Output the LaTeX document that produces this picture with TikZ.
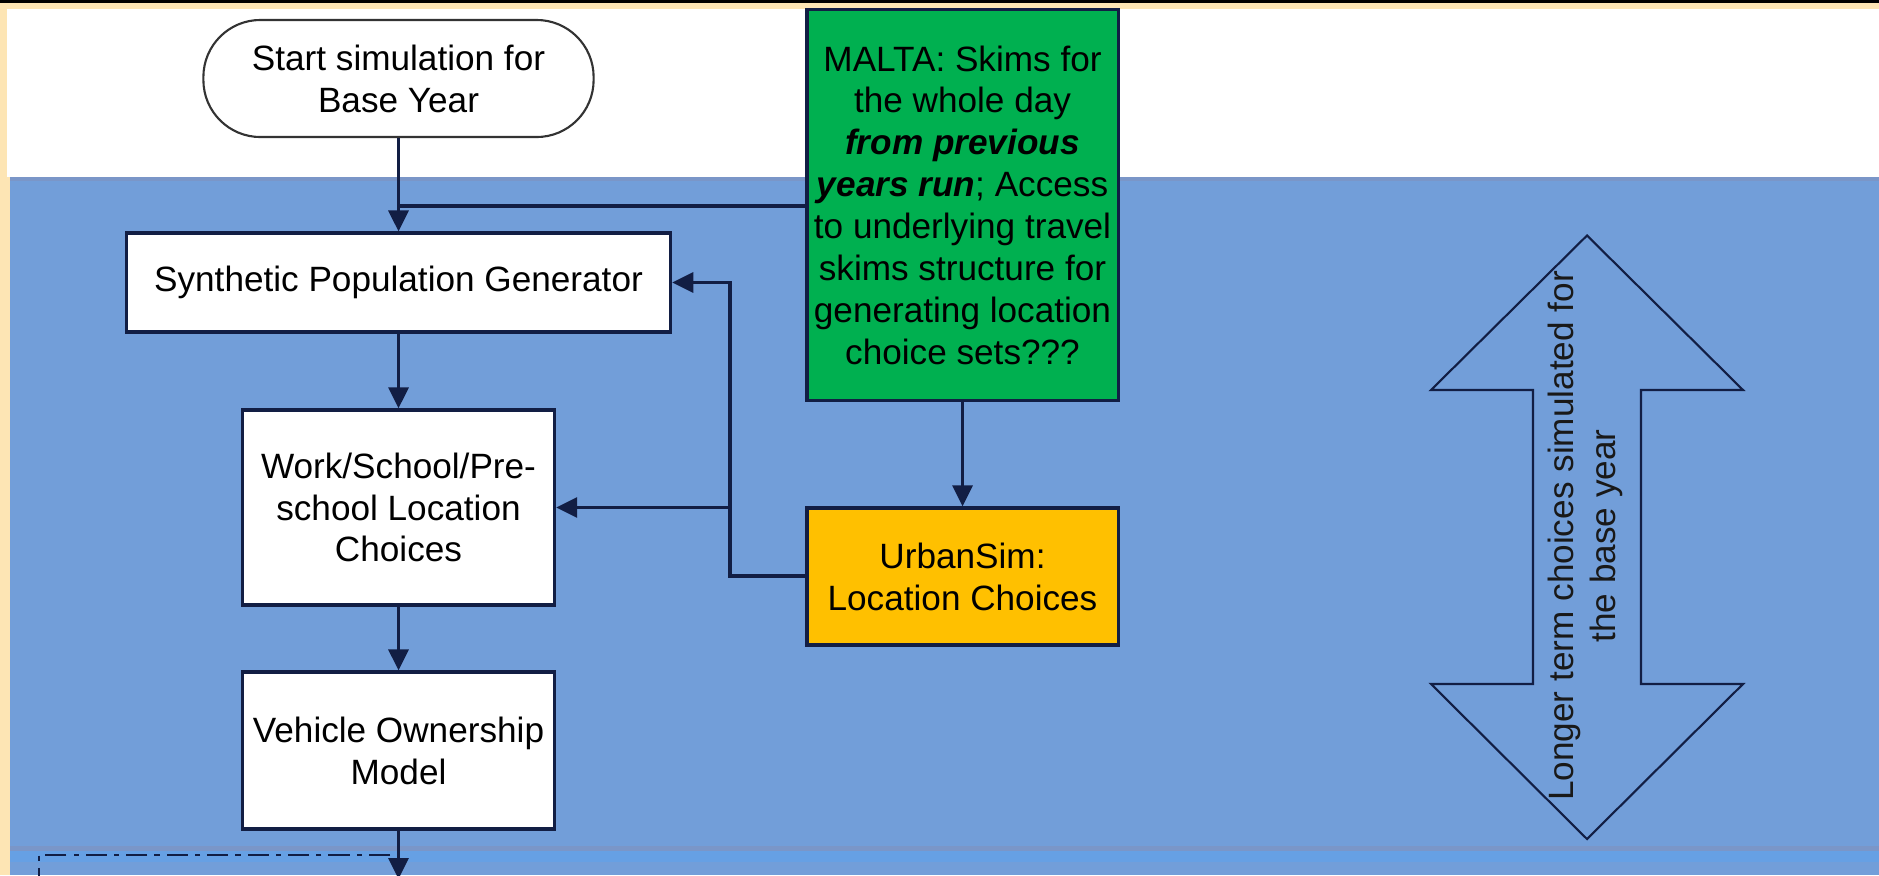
\documentclass[tikz,border=0pt]{standalone}
\usepackage{fontspec}
\setmainfont{Liberation Sans}
\usetikzlibrary{arrows.meta}
\usetikzlibrary{positioning}
\definecolor{bandcream}{RGB}{253,229,180}
\definecolor{laneblue}{RGB}{114,158,217}
\definecolor{laneedge}{RGB}{122,150,200}
\definecolor{lanestrip}{RGB}{102,160,228}
\definecolor{maltagreen}{RGB}{0,176,80}
\definecolor{urbangold}{RGB}{255,192,0}
\definecolor{edgenavy}{RGB}{18,30,68}
\tikzset{proc/.style={rectangle,draw=edgenavy,line width=0.9pt,fill=white,align=center,inner sep=0pt}}
\tikzset{term/.style={proc,draw=black!80,line width=0.6pt,rounded corners=0.57cm}}
\tikzset{link/.style={draw=edgenavy,line width=0.9pt}}
\tikzset{flow/.style={link,-{Triangle[length=0.21cm,width=0.2cm]}}}
\begin{document}
\begin{tikzpicture}[x=0.01cm,y=-0.01cm,font=\fontsize{10}{11.9}\selectfont]
\clip (0,0) rectangle (1879,875);
% backdrop
\fill[bandcream] (0,0) rectangle (1879,875);
\fill[black] (0,0) rectangle (1879,2.5);
\fill[white] (7,9) rectangle (1879,177);
\fill[laneblue] (10,177) rectangle (1879,875);
\fill[laneedge] (10,177) rectangle (1879,181);
\fill[laneedge] (10,846) rectangle (1879,851);
\fill[lanestrip] (10,851) rectangle (1879,862);

% model chain
\node[term, minimum width=3.9cm, minimum height=1.17cm] (start) at (398.5,78.5) {Start simulation for\\Base Year};
\node[proc, minimum width=5.44cm, minimum height=0.99cm] (synth) at (398.5,282.5) {Synthetic Population Generator};
\node[proc, minimum width=3.12cm, minimum height=1.95cm] (work) at (398.5,507.5) {Work/School/Pre-\\school Location\\Choices};
\node[proc, minimum width=3.12cm, minimum height=1.57cm] (vehicle) at (398.5,750.5) {Vehicle Ownership\\Model};

% inputs
\node[proc, fill=maltagreen, minimum width=3.11cm, minimum height=3.9cm] (malta) at (962.5,205) {MALTA: Skims for\\the whole day\\\textbf{\textit{from previous}}\\\textbf{\textit{years run}}; Access\\to underlying travel\\skims structure for\\generating location\\choice sets???};
\node[proc, fill=urbangold, minimum width=3.11cm, minimum height=1.37cm] (urbansim) at (962.5,576.5) {UrbanSim:\\Location Choices};

\coordinate (jmalta) at (398.5,206);
\coordinate (jback) at (730,576);
\coordinate (jtop) at (730,282.5);
\coordinate (jwork) at (730,507.5);
\coordinate (next) at (398.5,879);

\draw[flow] (start) -- (synth);
\draw[link] (malta.west |- jmalta) -- (jmalta);
\draw[flow] (synth) -- (work);
\draw[flow] (work) -- (vehicle);
\draw[flow] (vehicle) -- (next);
\draw[flow] (malta) -- (urbansim);
\draw[flow] (urbansim.west |- jback) -- (jback) -- (jtop) -- (synth.east);
\draw[flow] (jwork) -- (work.east);

% dash-dot frame of the next block
\coordinate (dd1) at (390,855);
\coordinate (dd2) at (39,855);
\coordinate (dd3) at (39,890);
\draw[edgenavy, line width=0.8pt, dash pattern=on 6pt off 2pt on 1.5pt off 2pt] (dd1) -- (dd2) -- (dd3);

% span arrow
\draw[edgenavy, line width=0.6pt, line join=miter] (1587,235.5) -- (1743,390) -- (1641,390) -- (1641,684) -- (1743,684) -- (1587,839) -- (1431,684) -- (1533,684) -- (1533,390) -- (1431,390) -- cycle;
\node[rotate=90, align=center, text=black!90] (span) at (1585,536) {Longer term choices simulated for\\the base year};
\end{tikzpicture}
\end{document}
